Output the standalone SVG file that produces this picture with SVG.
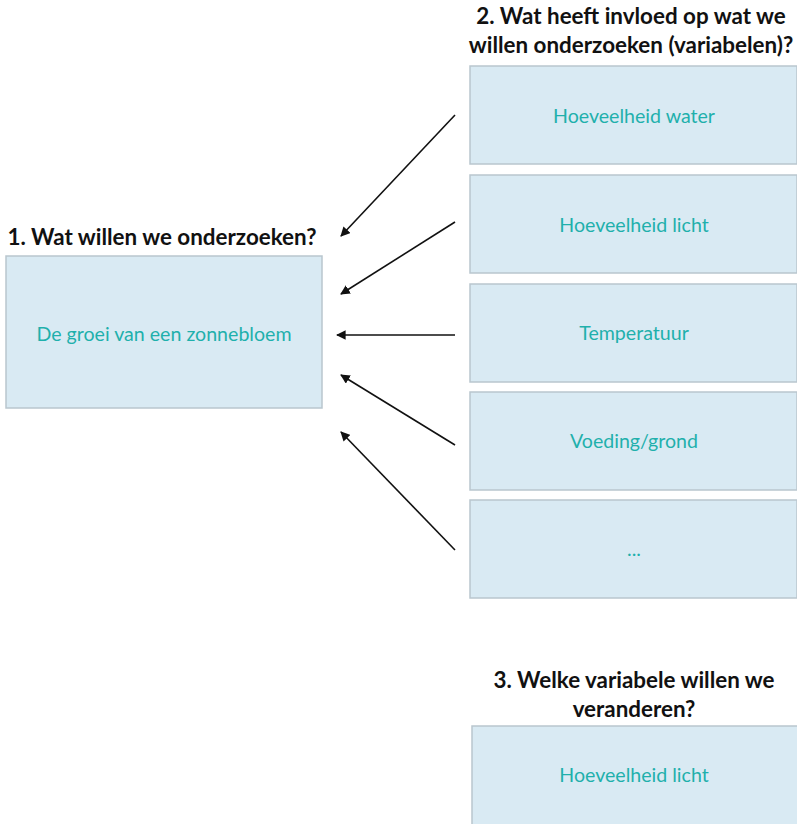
<svg xmlns="http://www.w3.org/2000/svg" width="797" height="824" viewBox="0 0 797 824">
<style>
.box{fill:#d9eaf3;stroke:#b9c6ce;stroke-width:1.5}
.lbl{font-family:Lato,"Open Sans",sans-serif;font-size:19.6px;fill:#1fb0ac;text-anchor:middle;dominant-baseline:central}
.ttl{font-family:Lato,"Open Sans",sans-serif;font-size:22.4px;font-weight:bold;fill:#111;text-anchor:middle}
.arr{stroke:#111;stroke-width:1.6;fill:none;marker-end:url(#ah)}
</style>
<defs>
<marker id="ah" viewBox="0 0 10 10" refX="9" refY="5" markerWidth="6" markerHeight="6" orient="auto" markerUnits="strokeWidth">
<path d="M0,0 L10,5 L0,10 z" fill="#111"/>
</marker>
</defs>
<rect width="797" height="824" fill="#fff"/>
<g id="node-main">
<text class="ttl" x="162" y="245">1. Wat willen we onderzoeken?</text>
<rect class="box" x="6" y="256" width="316" height="152"/>
<text class="lbl" x="164" y="333">De groei van een zonnebloem</text>
</g>
<g id="title-variables">
<text class="ttl" x="631" y="24">2. Wat heeft invloed op wat we</text>
<text class="ttl" x="631" y="53">willen onderzoeken (variabelen)?</text>
</g>
<g id="node-water">
<rect class="box" x="470" y="66" width="327" height="98"/>
<text class="lbl" x="634" y="115">Hoeveelheid water</text>
</g>
<g id="node-licht">
<rect class="box" x="470" y="175" width="327" height="98"/>
<text class="lbl" x="634" y="224">Hoeveelheid licht</text>
</g>
<g id="node-temp">
<rect class="box" x="470" y="284" width="327" height="98"/>
<text class="lbl" x="634" y="332">Temperatuur</text>
</g>
<g id="node-voeding">
<rect class="box" x="470" y="392" width="327" height="98"/>
<text class="lbl" x="634" y="440">Voeding/grond</text>
</g>
<g id="node-more">
<rect class="box" x="470" y="500" width="327" height="98"/>
<text class="lbl" x="634" y="548">...</text>
</g>
<g id="node-change">
<text class="ttl" x="634" y="688">3. Welke variabele willen we</text>
<text class="ttl" x="634" y="717">veranderen?</text>
<rect class="box" x="472" y="726" width="327" height="100"/>
<text class="lbl" x="634" y="774">Hoeveelheid licht</text>
</g>
<g id="connectors">
<line class="arr" x1="455" y1="115" x2="341" y2="236"/>
<line class="arr" x1="455" y1="222" x2="341" y2="294"/>
<line class="arr" x1="455" y1="335" x2="337" y2="335"/>
<line class="arr" x1="455" y1="445" x2="341" y2="375"/>
<line class="arr" x1="455" y1="550" x2="341" y2="432"/>
</g>
</svg>
